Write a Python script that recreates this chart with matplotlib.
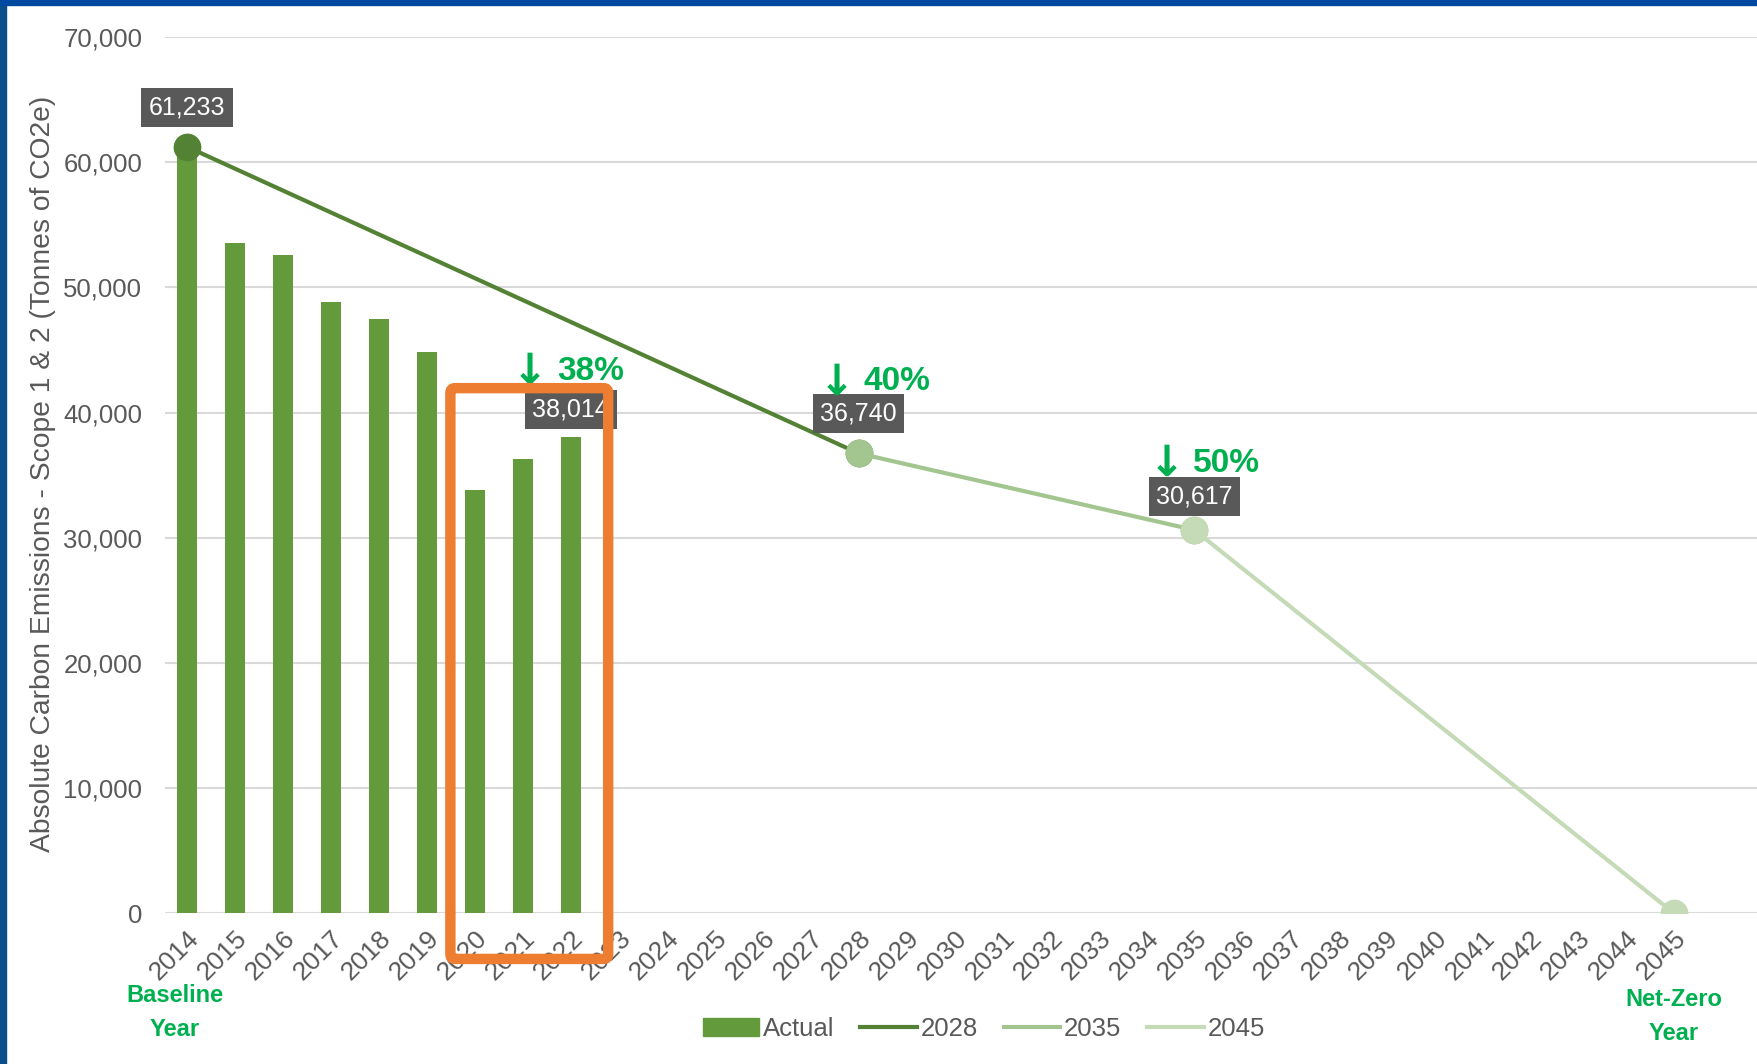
import matplotlib
matplotlib.use("Agg")
import matplotlib.pyplot as plt
from matplotlib.patches import Rectangle, FancyBboxPatch
from matplotlib.lines import Line2D
from matplotlib.patches import Patch

plt.rcParams['font.family'] = ['Liberation Sans', 'DejaVu Sans']

# data
years = list(range(2014, 2046))
actual_years = [2014, 2015, 2016, 2017, 2018, 2019, 2020, 2021, 2022]
actual = [61233, 53550, 52550, 48800, 47450, 44850, 33850, 36250, 38014]

t2028_x = [2014, 2028]
t2028_y = [61233, 36740]
t2035_x = [2028, 2035]
t2035_y = [36740, 30617]
t2045_x = [2035, 2045]
t2045_y = [30617, 0]

labels = [(2014, 61233, "61,233"), (2022, 38014, "38,014"),
          (2028, 36740, "36,740"), (2035, 30617, "30,617")]
drops = [(2022, 38014, "38%"), (2028, 36740, "40%"), (2035, 30617, "50%")]

bar_col = '#639a3c'
c28 = '#548235'
c35 = '#a3c58f'
c45 = '#c5dbb8'
grey = '#595959'
green_txt = '#00b050'

fig = plt.figure(figsize=(17.57, 10.64), dpi=100)
ax = fig.add_axes([0.0937, 0.1417, 1 - 0.0937, 0.9652 - 0.1417])

ax.bar(actual_years, actual, width=0.42, color=bar_col, zorder=2)
ax.plot(t2028_x, t2028_y, color=c28, lw=3, marker='o', ms=19, zorder=3)
ax.plot(t2035_x, t2035_y, color=c35, lw=3, marker='o', ms=19, zorder=4)
ax.plot(t2045_x, t2045_y, color=c45, lw=3, marker='o', ms=19, zorder=5)

ax.set_xlim(2014 - 0.467, 2046.73)
ax.set_ylim(0, 70000)
ax.set_yticks(range(0, 70001, 10000))
ax.set_yticklabels([f"{v:,}" for v in range(0, 70001, 10000)])
ax.set_xticks(years)
ax.set_xticklabels([str(y) for y in years], rotation=45, ha='right',
                   rotation_mode='anchor')
ax.tick_params(axis='both', length=0, colors=grey)
ax.tick_params(axis='y', pad=16, labelsize=18.5)
ax.tick_params(axis='x', pad=9, labelsize=19)
ax.grid(axis='y', color='#d9d9d9', lw=1.5, zorder=0)
ax.set_axisbelow(True)
for s in ax.spines.values():
    s.set_visible(False)

ax.set_ylabel("Absolute Carbon Emissions - Scope 1 & 2 (Tonnes of CO2e)",
              fontsize=20.3, color=grey)
ax.yaxis.set_label_coords(-0.068, 0.502)

# value labels
offs = {2014: 3150, 2022: 2200, 2028: 3200, 2035: 2700}
for x, y, t in labels:
    ax.text(x, y + offs[x], t, ha='center', va='center', fontsize=18,
            color='white', zorder=6,
            bbox=dict(boxstyle='square,pad=0.3', fc=grey, ec='none'))

# reduction arrows
doffs = {2022: 5300, 2028: 5750, 2035: 5350}
dx = {2022: -0.29, 2028: 0.11, 2035: -0.02}
for x, y, t in drops:
    tx = x + dx[x]
    ax.text(tx - 0.56, y + doffs[x] - 100, "\u2193", ha='center', va='center',
            fontsize=31, fontweight='bold', color=green_txt, zorder=6,
            family='DejaVu Sans')
    ax.text(tx, y + doffs[x], t, ha='left', va='center',
            fontsize=24, fontweight='bold', color=green_txt, zorder=6)

# highlight box
box = FancyBboxPatch((2019.49, -3650), 2022.78 - 2019.49, 41950 + 3650,
                     boxstyle='round,pad=0,rounding_size=0.1',
                     fill=False, ec='#ed7d31', lw=7.5, clip_on=False, zorder=7,
                     mutation_aspect=4000)
ax.add_patch(box)

ax.text(2014 - 0.25, -6600, "Baseline", ha='center', va='center', fontsize=17,
        fontweight='bold', color=green_txt)
ax.text(2014 - 0.25, -9300, "Year", ha='center', va='center', fontsize=17,
        fontweight='bold', color=green_txt)
ax.text(2045, -6900, "Net-Zero", ha='center', va='center', fontsize=17,
        fontweight='bold', color=green_txt)
ax.text(2045, -9600, "Year", ha='center', va='center', fontsize=17,
        fontweight='bold', color=green_txt)

handles = [Patch(color=bar_col, label='Actual'),
           Line2D([], [], color=c28, lw=3, label='2028'),
           Line2D([], [], color=c35, lw=3, label='2035'),
           Line2D([], [], color=c45, lw=3, label='2045')]
leg = fig.legend(handles=handles, loc='center', bbox_to_anchor=(0.56, 0.033),
                 ncol=4, frameon=False, fontsize=18.5, handlelength=2.2,
                 handletextpad=0.15, columnspacing=1.0)
for t in leg.get_texts():
    t.set_color(grey)

# blue frame strips
fig.patches.append(Rectangle((0, 0), 0.0035, 1, transform=fig.transFigure,
                             color='#0b4f8a', zorder=10))
fig.patches.append(Rectangle((0, 0.995), 1, 0.005, transform=fig.transFigure,
                             color='#0049a0', zorder=10))

fig.savefig("out.png", dpi=100)
